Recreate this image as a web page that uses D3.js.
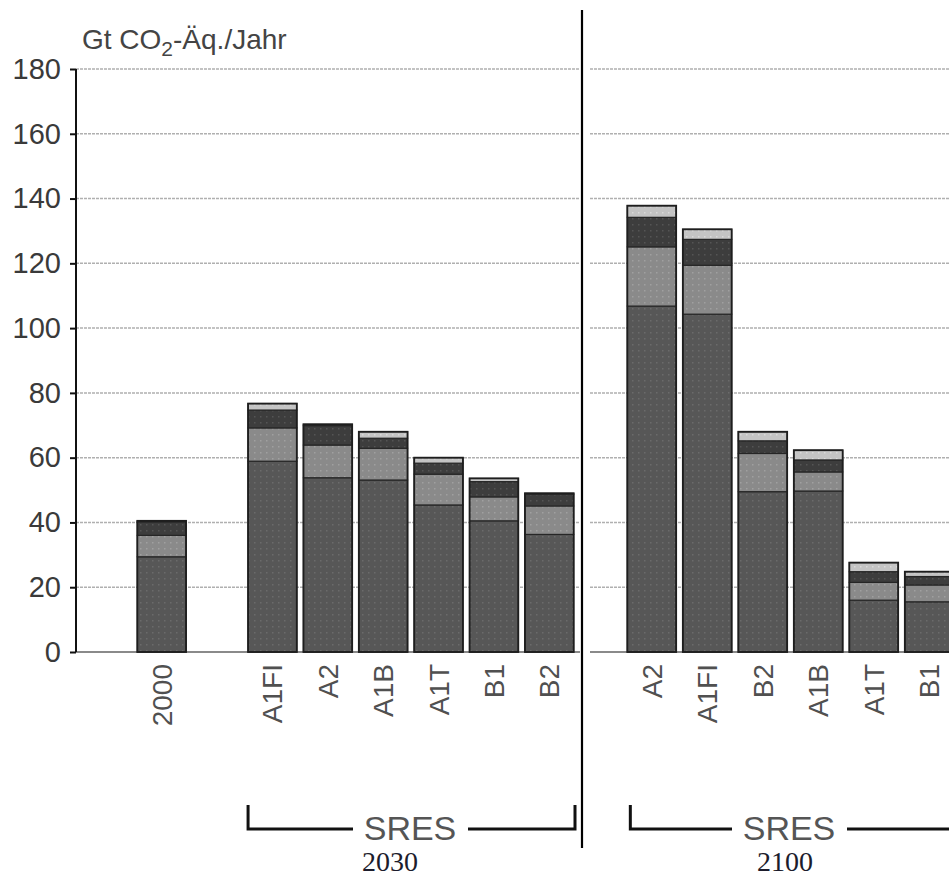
<!DOCTYPE html>
<html>
<head>
<meta charset="utf-8">
<script src="https://cdn.jsdelivr.net/npm/d3@7"></script>
<style>
  body { margin: 0; background: #fff; }
  svg { display: block; font-family: "Liberation Sans", Arial, sans-serif; }
</style>
</head>
<body>
<svg class="chart"></svg>
<script>
// values, Gt CO2-eq per year
const yTicks = [0, 20, 40, 60, 80, 100, 120, 140, 160, 180];
const gases = ['co2', 'ch4', 'n2o', 'fgas'];

const leftSlots = ['2000', 'gap', 'A1FI', 'A2', 'A1B', 'A1T', 'B1', 'B2'];
const leftLabels = ['2000', 'A1FI', 'A2', 'A1B', 'A1T', 'B1', 'B2'];
const leftCo2 = [29.4, 58.9, 53.8, 53.1, 45.4, 40.5, 36.3];
const leftCh4 = [6.6, 10.3, 10.1, 9.8, 9.5, 7.4, 8.8];
const leftN2o = [4.2, 5.5, 6.0, 3.1, 3.4, 4.7, 3.6];
const leftFgas = [0.3, 2.0, 0.4, 2.0, 1.7, 1.0, 0.3];

const rightLabels = ['A2', 'A1FI', 'B2', 'A1B', 'A1T', 'B1'];
const rightCo2 = [106.8, 104.3, 49.5, 49.7, 16.0, 15.5];
const rightCh4 = [18.3, 15.1, 11.8, 5.9, 5.5, 5.2];
const rightN2o = [9.1, 8.0, 3.9, 3.7, 3.3, 2.6];
const rightFgas = [3.6, 3.1, 2.8, 3.0, 2.8, 1.5];

const width = 949, height = 879;
const axisX = 76, dividerX = 582;

const svg = d3.select('.chart')
    .attr('width', width)
    .attr('height', height);

// dotted fills like the scanned print
const fills = {co2: ['#575757', '#6b6b6b'], ch4: ['#8a8a8a', '#a0a0a0'], n2o: ['#3d3d3d', '#555'], fgas: ['#c4c4c4', '#dadada']};
const defs = svg.append('defs');
gases.forEach(g => {
    const p = defs.append('pattern')
        .attr('id', 'pat-' + g)
        .attr('width', 6).attr('height', 6)
        .attr('patternUnits', 'userSpaceOnUse');
    p.append('rect').attr('width', 6).attr('height', 6).attr('fill', fills[g][0]);
    p.append('rect').attr('x', 2).attr('y', 2).attr('width', 1.5).attr('height', 1.5).attr('fill', fills[g][1]);
});

const y = d3.scaleLinear()
    .domain([0, 180])
    .range([652, 69]);

const xLeft = d3.scaleBand()
    .domain(leftSlots)
    .range([134, 577])
    .paddingInner(0.12)
    .paddingOuter(0.06);

const xRight = d3.scaleBand()
    .domain(rightLabels)
    .range([624, 957])
    .paddingInner(0.12)
    .paddingOuter(0.06);

// gridlines
const grid = svg.append('g');
[[axisX, dividerX - 2], [dividerX + 8, width]].forEach(([x1, x2]) => {
    grid.selectAll(null)
        .data(yTicks.filter(d => d > 0))
        .enter().append('line')
        .attr('x1', x1).attr('x2', x2)
        .attr('y1', d => y(d)).attr('y2', d => y(d))
        .attr('stroke', '#b0b0b0')
        .attr('stroke-width', 1.5)
        .attr('stroke-dasharray', '3,1');
    grid.append('line')
        .attr('x1', x1).attr('x2', x2)
        .attr('y1', y(0)).attr('y2', y(0))
        .attr('stroke', '#8a8a8a')
        .attr('stroke-width', 2);
});

function drawBars(x, labels, cols) {
    const rows = labels.map((l, i) => {
        const r = {label: l};
        gases.forEach((g, j) => r[g] = cols[j][i]);
        return r;
    });
    const series = d3.stack().keys(gases)(rows);
    const g = svg.append('g');
    g.selectAll('g')
        .data(series)
        .enter().append('g')
        .attr('fill', d => 'url(#pat-' + d.key + ')')
        .selectAll('rect')
        .data(d => d)
        .enter().append('rect')
        .attr('x', d => x(d.data.label))
        .attr('width', x.bandwidth())
        .attr('y', d => y(d[1]))
        .attr('height', d => y(d[0]) - y(d[1]))
        .attr('stroke', '#262626')
        .attr('stroke-width', 1.2);
    // outline of whole bar
    g.selectAll('.outline')
        .data(rows)
        .enter().append('rect')
        .attr('class', 'outline')
        .attr('x', d => x(d.label))
        .attr('width', x.bandwidth())
        .attr('y', d => y(d3.sum(gases, k => d[k])))
        .attr('height', d => y(0) - y(d3.sum(gases, k => d[k])))
        .attr('fill', 'none')
        .attr('stroke', '#1e1e1e')
        .attr('stroke-width', 1.8);

    svg.append('g')
        .selectAll('text')
        .data(labels)
        .enter().append('text')
        .attr('transform', d => 'translate(' + (x(d) + x.bandwidth() / 2 + 10) + ',664) rotate(-90)')
        .style('text-anchor', 'end')
        .style('font-size', '28px')
        .attr('fill', '#505050')
        .text(d => d);
}

drawBars(xLeft, leftLabels, [leftCo2, leftCh4, leftN2o, leftFgas]);
drawBars(xRight, rightLabels, [rightCo2, rightCh4, rightN2o, rightFgas]);

// y axis
const yAxis = svg.append('g')
    .attr('transform', 'translate(' + axisX + ',0)')
    .call(d3.axisLeft(y).tickValues(yTicks).tickSize(6).tickPadding(9));
yAxis.select('.domain').attr('stroke', '#111').attr('stroke-width', 2).attr('d', 'M0,' + y(180) + 'V' + y(0));
yAxis.selectAll('.tick line').attr('stroke', '#111').attr('stroke-width', 2);
yAxis.selectAll('.tick text')
    .style('font-size', '29px')
    .style('font-family', '"Liberation Sans", Arial, sans-serif')
    .attr('fill', '#3a3a3a');

// unit title
const title = svg.append('text')
    .attr('x', 82)
    .attr('y', 49)
    .style('font-size', '28px')
    .attr('fill', '#444');
title.append('tspan').text('Gt CO');
title.append('tspan').attr('dy', 7).style('font-size', '21px').text('2');
title.append('tspan').attr('dy', -7).text('-Äq./Jahr');

// divider between 2030 and 2100
svg.append('line')
    .attr('x1', dividerX).attr('x2', dividerX)
    .attr('y1', 10).attr('y2', 848)
    .attr('stroke', '#000')
    .attr('stroke-width', 2.2);

// SRES brackets
function bracket(x1, x2, tx, g1, g2, year, yearX) {
    svg.append('path')
        .attr('d', 'M' + x1 + ',805V829H' + g1)
        .attr('fill', 'none').attr('stroke', '#111').attr('stroke-width', 3);
    const right = x2 < width ? 'M' + g2 + ',829H' + x2 + 'V805' : 'M' + g2 + ',829H' + x2;
    svg.append('path')
        .attr('d', right)
        .attr('fill', 'none').attr('stroke', '#111').attr('stroke-width', 3);
    svg.append('text')
        .attr('x', tx).attr('y', 840)
        .style('text-anchor', 'middle')
        .style('font-size', '34px')
        .attr('fill', '#555')
        .text('SRES');
    svg.append('text')
        .attr('x', yearX).attr('y', 871)
        .style('text-anchor', 'middle')
        .style('font-family', '"Liberation Serif", "Times New Roman", serif')
        .style('font-size', '28px')
        .attr('fill', '#1c1c2c')
        .text(year);
}
bracket(xLeft('A1FI'), 575, 410, 353, 468, '2030', 390);
bracket(xRight('A2') + 3, width, 789, 732, 847, '2100', 785);
</script>
</body>
</html>
